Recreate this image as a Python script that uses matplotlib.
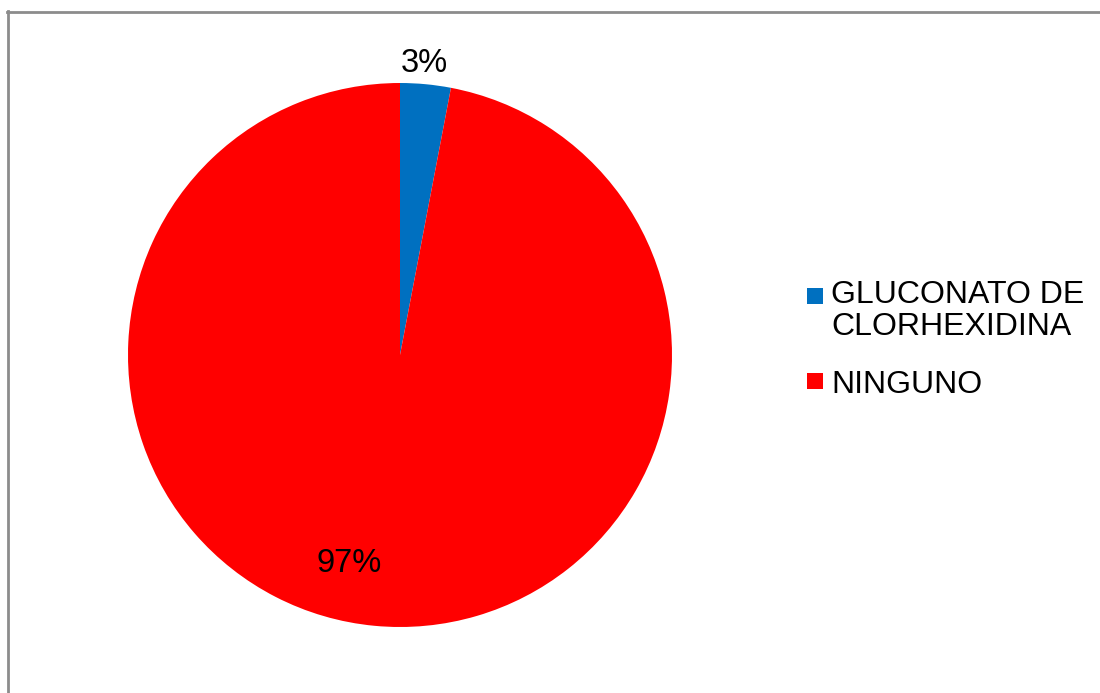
"""Pie chart: antiseptic used (gluconato de clorhexidina vs ninguno)."""
from matplotlib import pyplot as plt
from matplotlib.lines import Line2D
from matplotlib.patches import Rectangle

categorias = ['GLUCONATO DE\nCLORHEXIDINA', 'NINGUNO']
porcentajes = [3, 97]
colores = ['#0070C0', '#FF0000']

plt.rcParams['font.family'] = ['Liberation Sans', 'DejaVu Sans']

fig = plt.figure(figsize=(11, 6.93), dpi=100)
W, H = 1100, 693

# chart frame (only left and top edges fall inside the image)
fig.add_artist(Line2D([7.5 / W, 7.5 / W], [0, 1 - 11 / H], transform=fig.transFigure,
                      color='#8c8c8c', lw=2))
fig.add_artist(Line2D([7 / W, 1], [1 - 11.5 / H, 1 - 11.5 / H], transform=fig.transFigure,
                      color='#8c8c8c', lw=2))

# pie centred at (400, 355) px, radius 272 px
cx, cy, r = 400, 355, 272
ax = fig.add_axes([(cx - r) / W, (H - cy - r) / H, 2 * r / W, 2 * r / H])
ax.pie(porcentajes, colors=colores, startangle=90, counterclock=False,
       radius=1, wedgeprops=dict(linewidth=0))
ax.set_xlim(-1, 1)
ax.set_ylim(-1, 1)
ax.set_aspect('equal')
ax.axis('off')

# percentage labels
pos_etiquetas = [(424, 63), (349, 563)]
for val, (px, py) in zip(porcentajes, pos_etiquetas):
    fig.text(px / W, 1 - py / H, f'{val}%', fontsize=23.5, ha='center', va='center')

# legend drawn by hand so the square lines up with the first text line
pos_leyenda = [(296, 280), (381, 370)]
for cat, col, (py, ty) in zip(categorias, colores, pos_leyenda):
    fig.add_artist(Rectangle((807 / W, 1 - (py + 8) / H), 16 / W, 16 / H,
                             transform=fig.transFigure, color=col, lw=0))
    fig.text(831 / W, 1 - ty / H, cat, fontsize=23, ha='left', va='top',
             linespacing=1.08)

fig.savefig('out.png', dpi=100)
